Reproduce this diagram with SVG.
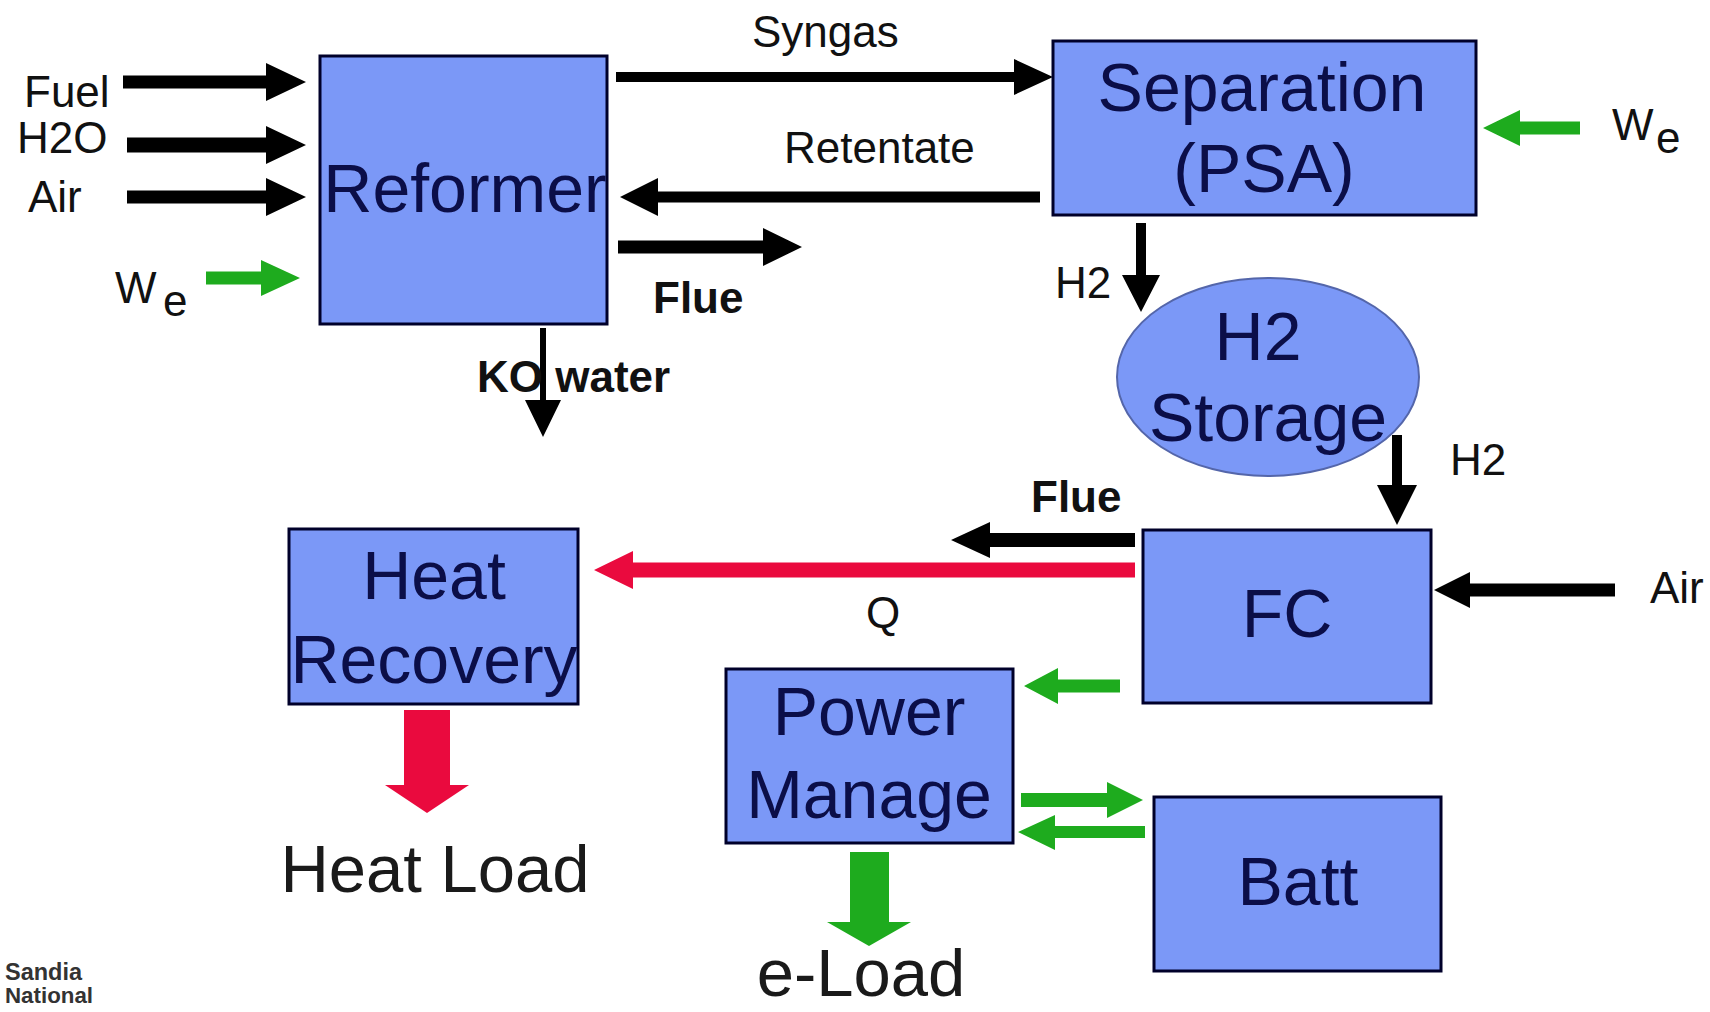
<svg xmlns="http://www.w3.org/2000/svg" width="1710" height="1012" viewBox="0 0 1710 1012">
<style>
  text { font-family: "Liberation Sans", Arial, sans-serif; }
  .box { fill: #7b98f7; stroke: #00002a; stroke-width: 3; }
  .ell { fill: #7b98f7; stroke: #5466aa; stroke-width: 2; }
  .node { font-size: 68px; fill: #0b0e48; text-anchor: middle; }
  .lbl { font-size: 44px; fill: #111; }
  .bold { font-weight: bold; }
  .blk { fill: #000; }
  .grn { fill: #1eab1e; }
  .red { fill: #ea0a3e; }
  .load { font-size: 67px; fill: #1a1a1a; text-anchor: middle; }
</style>
<rect width="1710" height="1012" fill="#fff"/>

<g id="connectors">
  <polygon class="blk" points="123,75.5 266,75.5 266,63 306,82 266,101 266,88.5 123,88.5"/>
  <polygon class="blk" points="127,137.5 266,137.5 266,126 306,145 266,164 266,152.5 127,152.5"/>
  <polygon class="blk" points="127,190.5 266,190.5 266,178 306,197 266,216 266,203.5 127,203.5"/>
  <polygon class="grn" points="206,271.5 261,271.5 261,260 300,278 261,296 261,284.5 206,284.5"/>
  <polygon class="blk" points="616,72 1014,72 1014,59 1053,77 1014,95 1014,82 616,82"/>
  <polygon class="blk" points="1040,191.5 658,191.5 658,178 620,197 658,216 658,202.5 1040,202.5"/>
  <polygon class="blk" points="618,240.5 763,240.5 763,228 802,247 763,266 763,253.5 618,253.5"/>
  <polygon class="grn" points="1580,121.5 1520,121.5 1520,110 1483,128 1520,146 1520,134.5 1580,134.5"/>
  <polygon class="blk" points="1136,223 1146,223 1146,275 1160,275 1141,312 1122,275 1136,275"/>
  <polygon class="blk" points="540,328 546,328 546,400 561,400 543,437 525,400 540,400"/>
  <polygon class="blk" points="1392,435 1402,435 1402,485 1417,485 1397,525 1377,485 1392,485"/>
  <polygon class="blk" points="1135,533 990,533 990,522 951,540 990,558 990,547 1135,547"/>
  <polygon class="red" points="1135,562.5 633,562.5 633,551 594,570 633,589 633,577.5 1135,577.5"/>
  <polygon class="blk" points="1615,583.5 1470,583.5 1470,572 1434,590 1470,608 1470,596.5 1615,596.5"/>
  <polygon class="grn" points="1120,679.5 1058,679.5 1058,668 1024,686 1058,704 1058,692.5 1120,692.5"/>
  <polygon class="grn" points="1021,793 1107,793 1107,782 1143,800 1107,818 1107,807 1021,807"/>
  <polygon class="grn" points="1145,826 1055,826 1055,815 1018,832 1055,850 1055,838 1145,838"/>
  <polygon class="red" points="404,710 450,710 450,785 469,785 427,813 385,785 404,785"/>
  <polygon class="grn" points="850,852 889,852 889,922 911,922 869,946 827,922 850,922"/>
</g>

<g id="labels">
  <text class="lbl" x="24" y="107">Fuel</text>
  <text class="lbl" x="17" y="153">H2O</text>
  <text class="lbl" x="28" y="212">Air</text>
  <text class="lbl" x="115" y="303" font-size="50">W</text>
  <text class="lbl" x="163" y="316" font-size="28">e</text>
  <text class="lbl" x="752" y="47">Syngas</text>
  <text class="lbl" x="784" y="163">Retentate</text>
  <text class="lbl bold" x="653" y="313">Flue</text>
  <text class="lbl" x="1612" y="140" font-size="46">W</text>
  <text class="lbl" x="1656" y="153" font-size="28">e</text>
  <text class="lbl" x="1055" y="298">H2</text>
  <text class="lbl bold" x="477" y="392">KO water</text>
  <text class="lbl" x="1450" y="475">H2</text>
  <text class="lbl bold" x="1031" y="512">Flue</text>
  <text class="lbl" x="866" y="628" font-size="50">Q</text>
  <text class="lbl" x="1650" y="603">Air</text>
  <text class="load" x="435" y="892">Heat Load</text>
  <text class="load" x="861" y="996" font-size="64">e-Load</text>
  <text x="5" y="980" font-size="24" font-weight="bold" fill="#333" textLength="77" lengthAdjust="spacingAndGlyphs">Sandia</text>
  <text x="5" y="1003" font-size="22" font-weight="bold" fill="#333" textLength="88" lengthAdjust="spacingAndGlyphs">National</text>
</g>

<g id="reformer">
  <rect class="box" x="320" y="56" width="287" height="268"/>
  <text class="node" x="465" y="212">Reformer</text>
</g>
<g id="separation">
  <rect class="box" x="1053" y="41" width="423" height="174"/>
  <text class="node" x="1262" y="111">Separation</text>
  <text class="node" x="1264" y="192">(PSA)</text>
</g>
<g id="h2storage">
  <ellipse class="ell" cx="1268" cy="377" rx="151" ry="99"/>
  <text class="node" x="1258" y="360">H2</text>
  <text class="node" x="1268" y="441">Storage</text>
</g>
<g id="fc">
  <rect class="box" x="1143" y="530" width="288" height="173"/>
  <text class="node" x="1287" y="637">FC</text>
</g>
<g id="heatrecovery">
  <rect class="box" x="289" y="529" width="289" height="175"/>
  <text class="node" x="434" y="599">Heat</text>
  <text class="node" x="434" y="683">Recovery</text>
</g>
<g id="powermanage">
  <rect class="box" x="726" y="669" width="287" height="174"/>
  <text class="node" x="869" y="735">Power</text>
  <text class="node" x="869" y="818">Manage</text>
</g>
<g id="batt">
  <rect class="box" x="1154" y="797" width="287" height="174"/>
  <text class="node" x="1298" y="905">Batt</text>
</g>
</svg>
